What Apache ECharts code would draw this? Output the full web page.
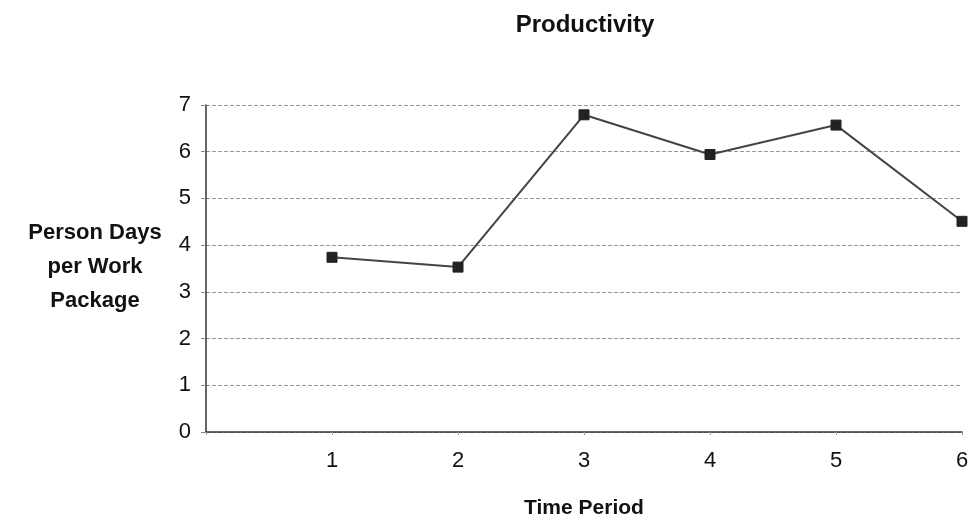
<!DOCTYPE html>
<html>
<head>
<meta charset="utf-8">
<script src="https://cdn.jsdelivr.net/npm/echarts@6/dist/echarts.min.js"></script>
<style>
  html, body { margin: 0; padding: 0; background: #fff; }
  #chart { width: 973px; height: 524px; }
</style>
</head>
<body>
<div id="chart"></div>
<script>
// Productivity per time period
const periods = [1, 2, 3, 4, 5, 6];
const personDays = [3.74, 3.53, 6.79, 5.94, 6.57, 4.51];
const yTicks = [0, 1, 2, 3, 4, 5, 6, 7];

const FONT = '"Liberation Sans", Arial, sans-serif';

const chart = echarts.init(document.getElementById('chart'));
chart.setOption({
  backgroundColor: '#ffffff',
  animation: false,
  title: [
    {
      text: 'Productivity',
      left: 580, top: 8, textAlign: 'center',
      textStyle: { fontFamily: FONT, fontSize: 24, fontWeight: 'bold', color: '#111' }
    },
    {
      text: 'Person Days\nper Work\nPackage',
      left: 90, top: 211, textAlign: 'center',
      textStyle: { fontFamily: FONT, fontSize: 22, fontWeight: 'bold', color: '#111', lineHeight: 34 }
    }
  ],
  grid: { left: 206, right: 11, top: 105, bottom: 90, containLabel: false },
  xAxis: {
    type: 'value',
    min: 0, max: 6, interval: 1,
    name: 'Time Period',
    nameLocation: 'middle',
    nameGap: 66,
    nameTextStyle: { fontFamily: FONT, fontSize: 21, fontWeight: 'bold', color: '#111' },
    axisLine: { show: true, lineStyle: { color: '#333', width: 1.5 } },
    axisTick: { show: true, length: 3, lineStyle: { color: '#999' } },
    axisLabel: {
      fontFamily: FONT, fontSize: 22, color: '#111', margin: 18,
      formatter: v => (v === 0 ? '' : String(v))
    },
    splitLine: { show: false }
  },
  yAxis: {
    type: 'value',
    min: yTicks[0], max: yTicks[yTicks.length - 1], interval: 1,
    axisLine: { show: true, lineStyle: { color: '#333', width: 1.5 } },
    axisTick: { show: true, length: 5, lineStyle: { color: '#888' } },
    axisLabel: { fontFamily: FONT, fontSize: 22, color: '#111', margin: 15 },
    splitLine: { show: true, lineStyle: { color: '#999', width: 1, type: [4, 2] } }
  },
  series: [{
    type: 'line',
    data: periods.map((p, i) => [p, personDays[i]]),
    symbol: 'rect',
    symbolSize: 10,
    clip: false,
    lineStyle: { color: '#444', width: 2 },
    itemStyle: { color: '#222', borderColor: '#222' }
  }]
});
</script>
</body>
</html>
